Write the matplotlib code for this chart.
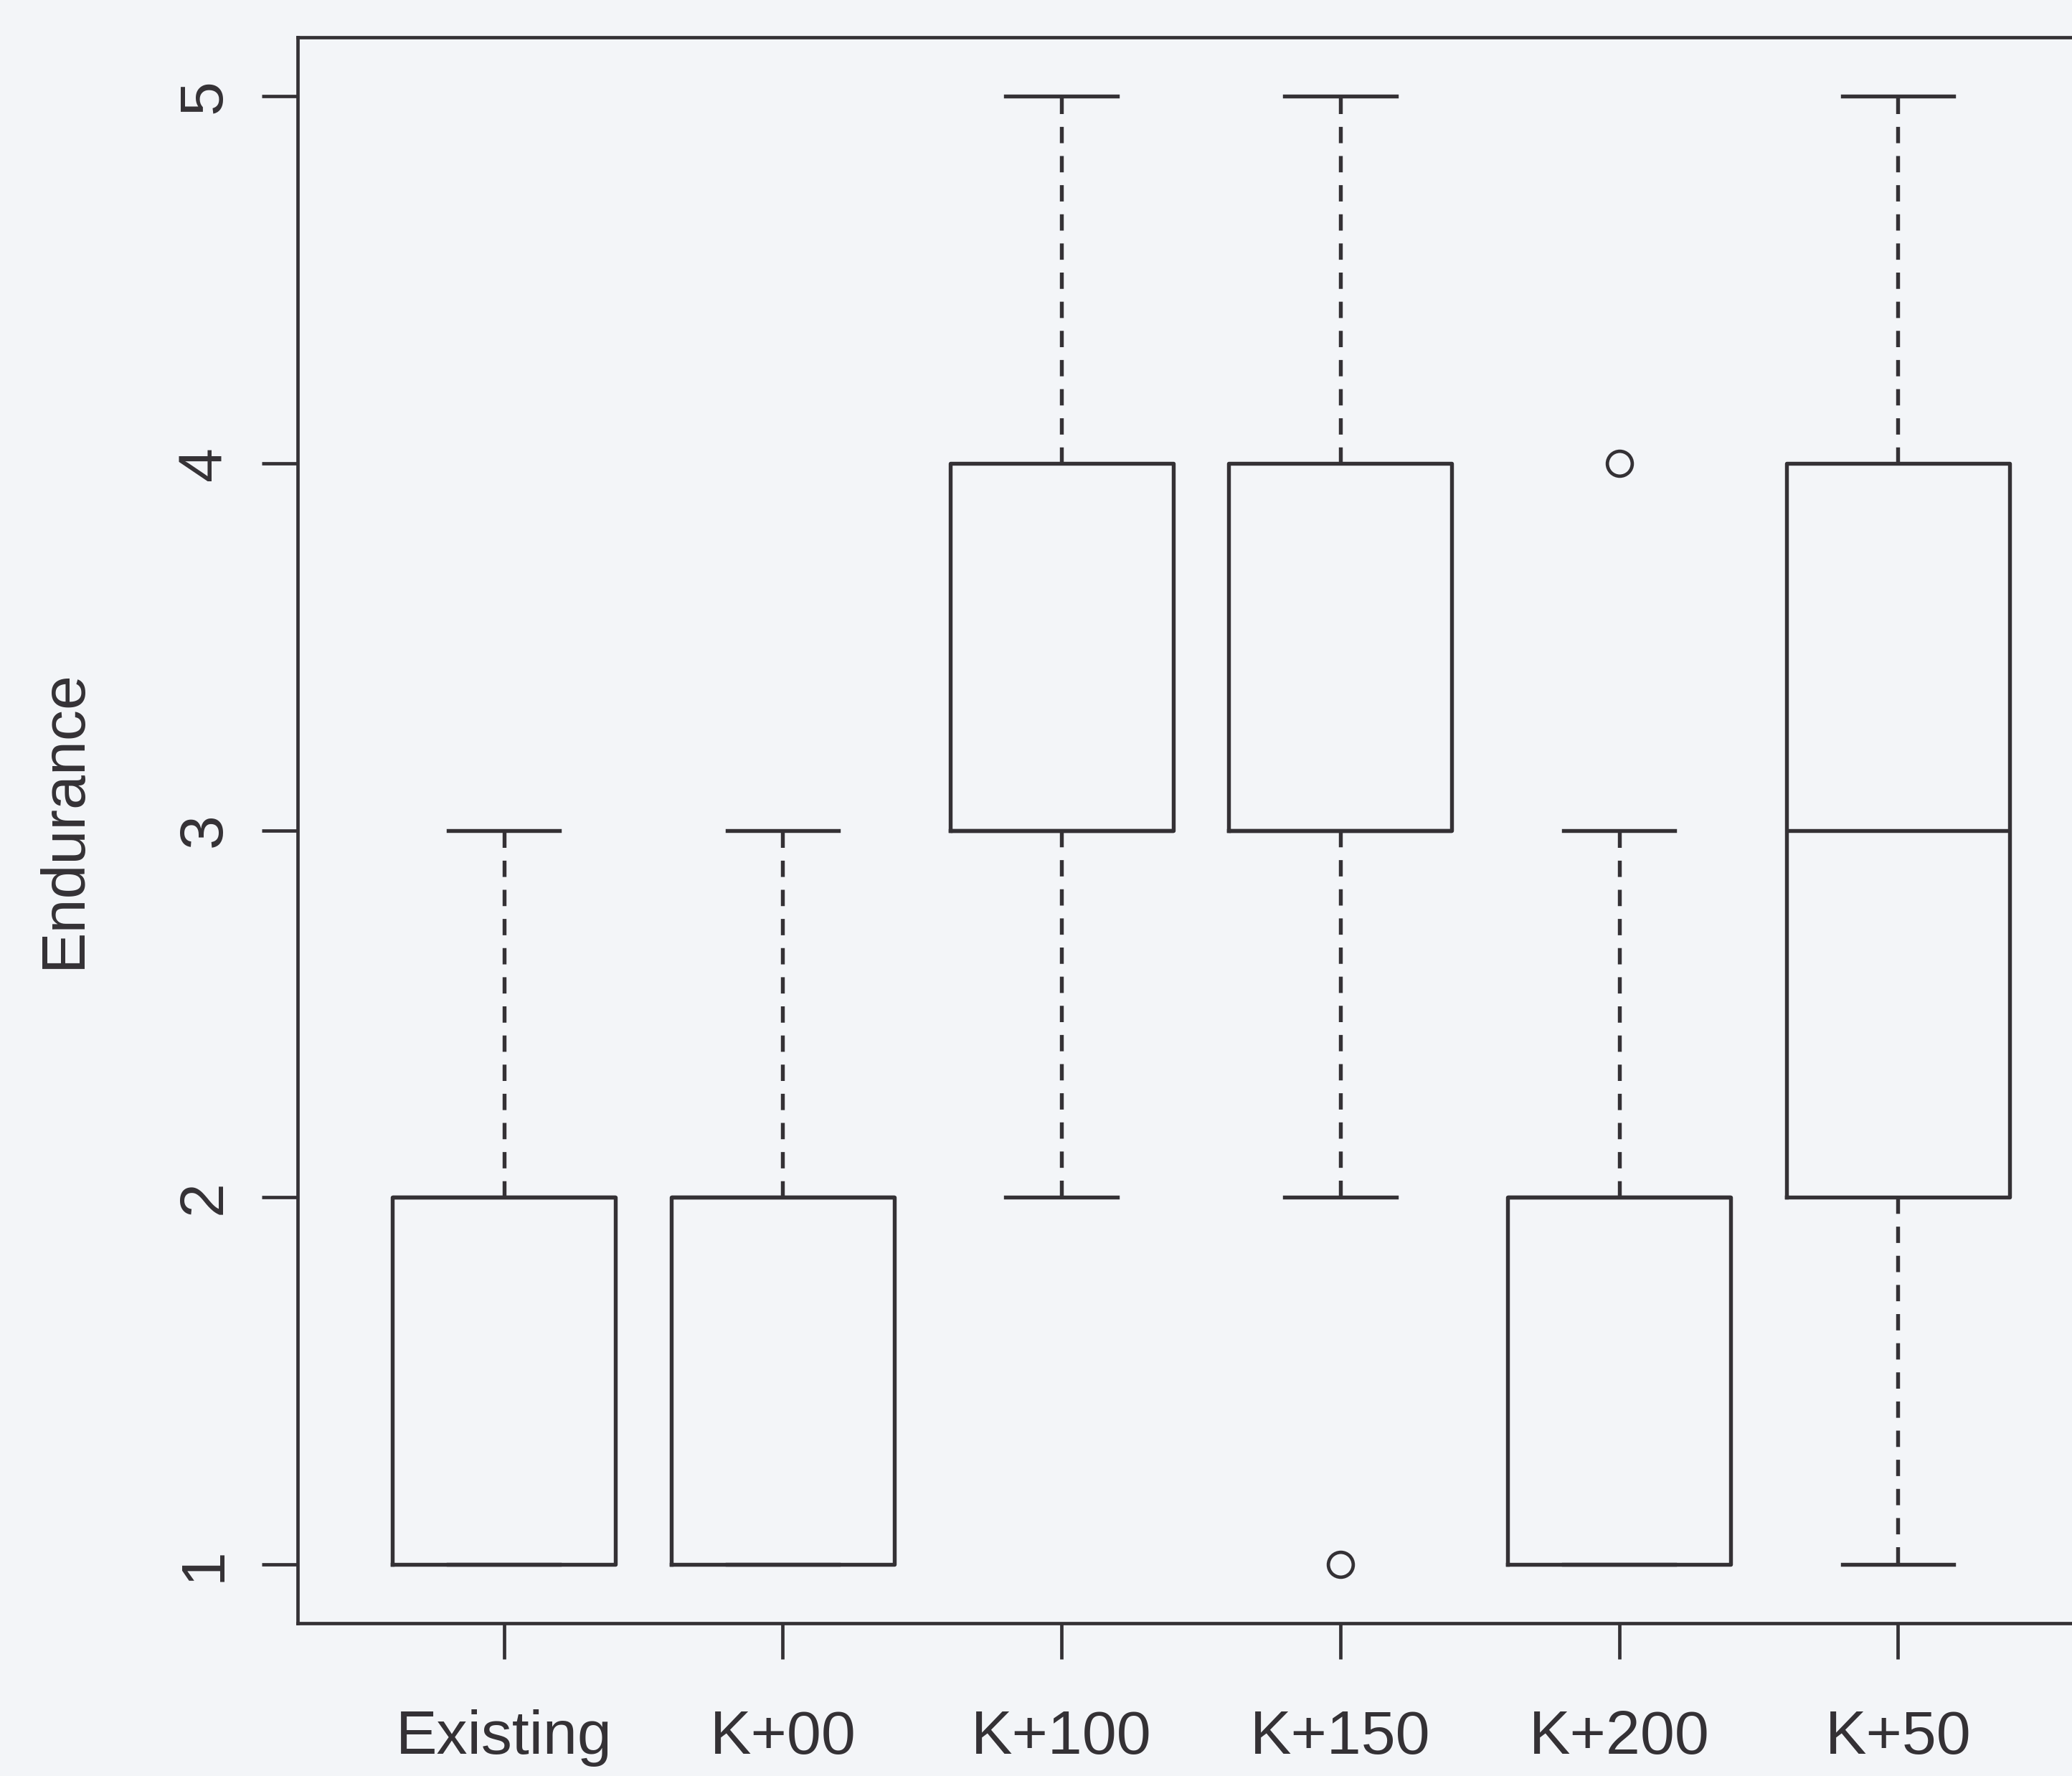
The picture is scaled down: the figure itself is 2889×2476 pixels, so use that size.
import matplotlib
matplotlib.use("Agg")
import matplotlib.pyplot as plt

categories = ["Existing", "K+00", "K+100", "K+150", "K+200", "K+50"]
whis_lo = [1, 1, 2, 2, 1, 1]
q1 = [1, 1, 3, 3, 1, 2]
medians = [2, 2, 3, 3, 2, 3]
q3 = [2, 2, 4, 4, 2, 4]
whis_hi = [3, 3, 5, 5, 3, 5]
outliers = [[], [], [], [1], [4], []]
y_ticks = [1, 2, 3, 4, 5]
y_label = "Endurance"

plt.rcParams['font.family'] = ['Liberation Sans', 'DejaVu Sans']
ink = "#343135"
bg = "#f3f5f8"

fig = plt.figure(figsize=(28.89, 24.76), dpi=100, facecolor=bg)
ax = fig.add_axes([0.1436, 0.0860, 0.872, 0.893])
ax.set_facecolor(bg)

stats = []
for i, name in enumerate(categories):
    stats.append(dict(label=name, whislo=whis_lo[i], q1=q1[i], med=medians[i],
                      q3=q3[i], whishi=whis_hi[i], fliers=outliers[i]))

lw = 3.9
ax.bxp(stats, positions=range(1, len(categories) + 1), widths=0.8,
       showfliers=True, patch_artist=False,
       boxprops=dict(color=ink, linewidth=lw),
       medianprops=dict(color=ink, linewidth=lw),
       whiskerprops=dict(color=ink, linewidth=lw, linestyle=(0, (4.2, 3.3))),
       capprops=dict(color=ink, linewidth=lw),
       capwidths=0.4,
       flierprops=dict(marker='o', markerfacecolor='none', markeredgecolor=ink,
                       markersize=25, markeredgewidth=3.4))

ax.set_xlim(0.26, 6.74)
ax.set_ylim(0.84, 5.16)
ax.set_yticks(y_ticks)
ax.set_yticklabels([str(v) for v in y_ticks], rotation=90, va='center')
ax.set_xticks(range(1, len(categories) + 1))
ax.set_xticklabels(categories)

for s in ax.spines.values():
    s.set_color(ink)
    s.set_linewidth(3.4)

ax.tick_params(axis='both', colors=ink, labelcolor=ink, labelsize=62,
               length=36, width=3.4, direction='out')
ax.tick_params(axis='y', pad=28)
ax.tick_params(axis='x', pad=50)

fig.text(90 / 2889, 1 - 1142 / 2476, y_label, rotation=90, ha='center', va='center',
         fontsize=62, color=ink)

fig.savefig("out.png", dpi=100, facecolor=bg)
